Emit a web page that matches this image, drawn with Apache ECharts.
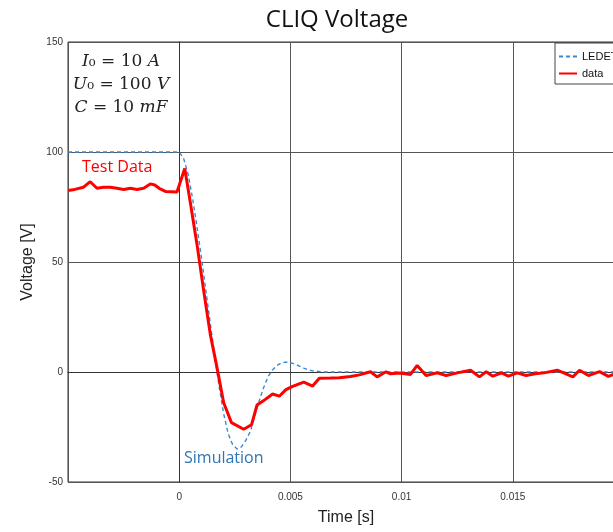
<!DOCTYPE html>
<html>
<head>
<meta charset="utf-8">
<script src="https://cdn.jsdelivr.net/npm/echarts@6/dist/echarts.min.js"></script>
<style>
  html, body { margin: 0; padding: 0; background: #fff; }
  #chart { width: 613px; height: 532px; }
</style>
</head>
<body>
<div id="chart"></div>
<script>
// simulation (LEDET) curve
const simTime = [-0.005, 0, 0.0002, 0.0004, 0.0006, 0.0008, 0.001, 0.0012, 0.0014, 0.0016, 0.0018,
  0.002, 0.0022, 0.0024, 0.0026, 0.0028, 0.003, 0.0032, 0.0034, 0.0036, 0.0038, 0.004,
  0.0042, 0.0044, 0.0046, 0.0048, 0.005, 0.0052, 0.0054, 0.0056, 0.0058, 0.006, 0.0065, 0.02];
const simVolt = [100, 100, 97, 90, 79, 66, 52, 37, 22, 7, -7,
  -19, -28, -33, -35, -34, -31, -27, -20, -13, -7, -2,
  1, 3, 4.2, 4.5, 4.3, 3.6, 2.7, 1.8, 1.0, 0.5, 0, 0];

// measured test data
const dataTime = [-0.005, -0.0047, -0.0043, -0.004, -0.0037, -0.0034, -0.0031, -0.0028, -0.0025,
  -0.0022, -0.0019, -0.0016, -0.0013, -0.0011, -0.0009, -0.0006, -0.0001, 0.00025, 0.0005,
  0.0008, 0.0011, 0.0014, 0.0017, 0.002, 0.00235, 0.0029, 0.00325, 0.0035, 0.0038,
  0.0042, 0.0045, 0.0048, 0.0051, 0.0056, 0.006, 0.0063, 0.0068, 0.0072, 0.0077, 0.0081,
  0.0086, 0.0089, 0.0093, 0.0095, 0.0099, 0.0104, 0.0107, 0.0111, 0.0116, 0.012, 0.0125,
  0.0131, 0.0135, 0.0138, 0.0141, 0.0145, 0.0148, 0.0152, 0.0156, 0.016, 0.0164, 0.017,
  0.0177, 0.018, 0.0184, 0.0189, 0.0193, 0.0197, 0.02];
const dataVolt = [82.5, 83, 84, 86.5, 83.5, 84, 84, 83.5, 83,
  83.5, 83, 83.5, 85.5, 85, 83.5, 82, 81.8, 92.5, 77,
  58, 37, 17, 2, -14, -23, -26, -24, -15, -13,
  -10, -11, -8, -6.5, -4.6, -6.4, -2.8, -2.7, -2.6, -2, -1.3,
  0.1, -2.2, 0.1, -0.8, -0.5, -1.1, 3, -1.6, -0.4, -1.6, -0.4,
  0.8, -2.2, 0.1, -1.9, -0.4, -1.9, -0.4, -1.6, -0.8, -0.4, 0.8,
  -2.2, 0.8, -1.6, 0.2, -2, -0.4, -0.8];

const xTicks = [-0.005, 0.02, 0.005];   // min, max, step
const yTicks = [-50, 150, 50];

const simColor = '#3a8ad0';
const dataColor = '#ff0000';

const chart = echarts.init(document.getElementById('chart'));

const option = {
  animation: false,
  title: {
    text: 'CLIQ Voltage',
    left: 332, top: 3, textAlign: 'center',
    textStyle: { fontFamily: 'Open Sans', fontWeight: 'normal', fontSize: 24, color: '#111' }
  },
  legend: {
    orient: 'vertical',
    left: 555, top: 43,
    padding: [8, 10, 5, 3],
    itemGap: 6,
    itemWidth: 18, itemHeight: 8,
    backgroundColor: '#fff',
    borderColor: '#444', borderWidth: 1,
    itemStyle: { opacity: 0 },
    textStyle: { fontFamily: 'Liberation Sans', fontSize: 11, color: '#111' },
    data: ['LEDET', 'data']
  },
  // plot runs past the right edge of the page (x max 0.02 is cut off)
  grid: {
    left: 68, width: 556, top: 42, height: 440,
    outerBoundsMode: 'none',
    show: true, borderColor: '#333', borderWidth: 1
  },
  xAxis: {
    type: 'value',
    min: xTicks[0], max: xTicks[1], interval: xTicks[2],
    name: 'Time [s]', nameLocation: 'middle', nameGap: 28,
    nameTextStyle: { fontFamily: 'Liberation Sans', fontSize: 16, color: '#222' },
    axisLine: { show: true, lineStyle: { color: '#333' } },
    axisTick: { show: false },
    axisLabel: {
      showMinLabel: false, margin: 10,
      fontFamily: 'Liberation Sans', fontSize: 10, color: '#333',
      formatter: v => String(+v.toFixed(3))
    },
    splitLine: { lineStyle: { color: '#555', width: 1 } }
  },
  yAxis: {
    type: 'value',
    min: yTicks[0], max: yTicks[1], interval: yTicks[2],
    name: 'Voltage [V]', nameLocation: 'middle', nameGap: 30,
    nameTextStyle: { fontFamily: 'Liberation Sans', fontSize: 16, color: '#222' },
    axisLine: { show: true, lineStyle: { color: '#333' } },
    axisTick: { show: false },
    axisLabel: { margin: 5, fontFamily: 'Liberation Sans', fontSize: 10, color: '#333' },
    splitLine: { lineStyle: { color: '#555', width: 1 } }
  },
  series: [
    {
      name: 'LEDET', type: 'line', symbol: 'none', z: 3,
      data: simTime.map((t, i) => [t, simVolt[i]]),
      lineStyle: { color: simColor, width: 1.4, type: [4, 3] },
      itemStyle: { color: simColor }
    },
    {
      name: 'data', type: 'line', symbol: 'none', z: 4,
      data: dataTime.map((t, i) => [t, dataVolt[i]]),
      lineStyle: { color: dataColor, width: 3 },
      itemStyle: { color: dataColor }
    }
  ],
  graphic: [
    {
      type: 'text', x: 121, y: 50,
      style: {
        text: '{i|I}{n|₀ = 10 }{i|A}\n{i|U}{n|₀ = 100 }{i|V}\n{i|C}{n| = 10 }{i|mF}',
        align: 'center',
        rich: {
          i: { fontFamily: 'DejaVu Serif', fontStyle: 'italic', fontSize: 17, fill: '#222', lineHeight: 23, align: 'center' },
          n: { fontFamily: 'DejaVu Serif', fontSize: 17, fill: '#222', lineHeight: 23, align: 'center' }
        }
      }
    },
    {
      type: 'text', left: 82, top: 159,
      style: { text: 'Test Data', fontFamily: 'Open Sans', fontSize: 16, fill: '#ff0000' }
    },
    {
      type: 'text', left: 184, top: 450,
      style: { text: 'Simulation', fontFamily: 'Open Sans', fontSize: 16, fill: '#2e75b6' }
    }
  ]
};

chart.setOption(option);
</script>
</body>
</html>
